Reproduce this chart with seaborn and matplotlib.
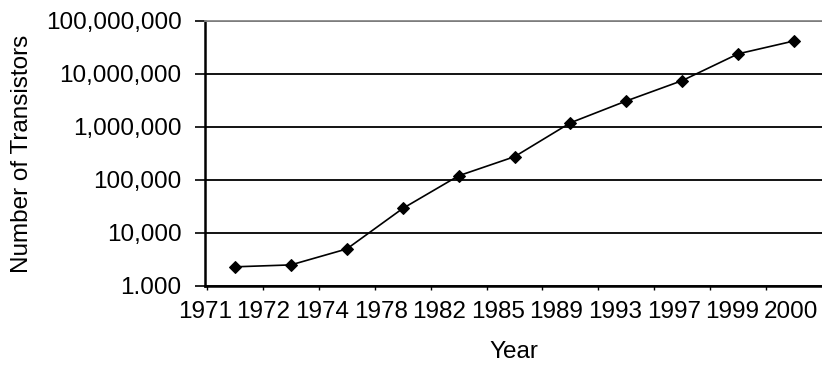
import numpy as np
import pandas as pd
import seaborn as sns
import matplotlib.pyplot as plt
from matplotlib.ticker import FixedLocator

# data
years = ["1971", "1972", "1974", "1978", "1982", "1985", "1989", "1993", "1997", "1999", "2000"]
transistors = [2300, 2500, 5000, 29000, 120000, 275000, 1200000, 3100000, 7500000, 24000000, 42000000]
y_ticks = [1e3, 1e4, 1e5, 1e6, 1e7, 1e8]
y_tick_labels = ["1.000", "10,000", "100,000", "1,000,000", "10,000,000", "100,000,000"]

df = pd.DataFrame({"pos": np.arange(len(years)), "count": transistors})

sns.set_style("white")
plt.rcParams["font.family"] = ["Liberation Sans", "DejaVu Sans"]

fig = plt.figure(figsize=(8.22, 3.72), dpi=100)
ax = fig.add_axes([0.2494, 0.2312, 0.7506, 0.7124])

sns.lineplot(data=df, x="pos", y="count", ax=ax, color="black", linewidth=1.2,
             marker="D", markersize=6.5, markeredgecolor="black", markerfacecolor="black")

ax.set_yscale("log")
ax.set_ylim(1e3, 1e8)
ax.set_xlim(-0.5, len(years) - 0.5)

# gridlines on each decade
ax.set_yticks(y_ticks)
ax.set_yticklabels(y_tick_labels)
ax.yaxis.set_minor_locator(FixedLocator([]))
ax.grid(axis="y", color="black", linewidth=1.3)
ax.tick_params(axis="y", which="major", left=True, length=7, width=1.2, color="black",
               pad=10, labelsize=17.5, labelcolor="black")

# tick marks sit on category boundaries, labels drift slightly right like the original
n = len(years)
ax.set_xticks(np.arange(n) - 0.5, minor=True)
ax.set_xticks(np.arange(n) * 1.048 - 0.536)
ax.set_xticklabels(years)
ax.tick_params(axis="x", which="minor", bottom=True, length=3, width=1.0, color="black")
ax.tick_params(axis="x", which="major", bottom=False, length=0, pad=11, labelsize=17.5,
               labelcolor="black")

ax.set_xlabel("Year", fontsize=17.5, color="black")
ax.set_ylabel("Number of Transistors", fontsize=17.5, color="black")
ax.xaxis.set_label_coords(0.5, -0.25)
ax.xaxis.label.set_va("center")
ax.yaxis.set_label_coords(-0.2966, 0.5)
ax.yaxis.label.set_va("center")

for side in ["left", "bottom"]:
    ax.spines[side].set_color("black")
    ax.spines[side].set_linewidth(1.8)
ax.spines["top"].set_color("#888888")
ax.spines["top"].set_linewidth(1.3)
ax.spines["right"].set_visible(False)

fig.savefig("out.png", dpi=100)
